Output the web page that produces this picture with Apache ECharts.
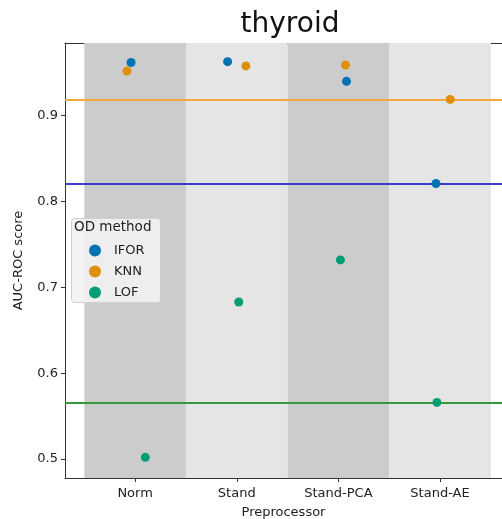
<!DOCTYPE html>
<html>
<head>
<meta charset="utf-8">
<script src="https://cdn.jsdelivr.net/npm/echarts@6/dist/echarts.min.js"></script>
<style>
  html, body { margin: 0; padding: 0; background: #fff; }
  #chart { width: 502px; height: 519px; }
</style>
</head>
<body>
<div id="chart"></div>
<script>
// categories on the x axis
const preprocessors = ['Norm', 'Stand', 'Stand-PCA', 'Stand-AE']
const methods = ['IFOR', 'KNN', 'LOF']
const methodColors = ['#0173b2', '#de8f05', '#029e73']

// AUC-ROC values per method, one per preprocessor
const iforScores = [0.962, 0.963, 0.940, 0.821]
const knnScores = [0.952, 0.958, 0.959, 0.919]
const lofScores = [0.502, 0.683, 0.732, 0.566]

// strip plot jitter (category units)
const iforJitter = [-0.04, -0.09, 0.08, -0.04]
const knnJitter = [-0.08, 0.09, 0.07, 0.10]
const lofJitter = [0.10, 0.02, 0.02, -0.03]

// baseline lines (Stand-AE scores)
const baselineValues = [0.919, 0.821, 0.566]
const baselineColors = ['#f5a83a', '#3b3bcc', '#35993a']

const yTicks = [0.5, 0.6, 0.7, 0.8, 0.9]

const scores = [iforScores, knnScores, lofScores]
const jitters = [iforJitter, knnJitter, lofJitter]

const chart = echarts.init(document.getElementById('chart'))

const bandColors = ['#cccccc', '#e5e5e5', '#cccccc', '#e5e5e5']
const bandSeries = {
    type: 'scatter',
    data: [],
    silent: true,
    markArea: {
        silent: true,
        data: preprocessors.map((_, i) => [
            { xAxis: i - 0.5, itemStyle: { color: bandColors[i] } },
            { xAxis: i + 0.5 }
        ])
    },
    markLine: {
        silent: true,
        symbol: 'none',
        precision: 4,
        label: { show: false },
        data: baselineValues.map((v, i) => ({
            yAxis: v,
            lineStyle: { color: baselineColors[i], width: 2, type: 'solid' }
        }))
    }
}

const pointSeries = methods.map((m, k) => ({
    name: m,
    type: 'scatter',
    symbolSize: 9,
    itemStyle: { color: methodColors[k], opacity: 1 },
    z: 5,
    data: scores[k].map((v, i) => [i + jitters[k][i], v])
}))

const labelFont = { fontFamily: 'DejaVu Sans', fontSize: 13, color: '#222' }

const option = {
    animation: false,
    title: {
        text: 'thyroid',
        left: 285,
        textAlign: 'center',
        top: 6,
        textStyle: { fontFamily: 'DejaVu Sans', fontSize: 28, fontWeight: 'normal', color: '#111' }
    },
    grid: { left: 65, top: 43, right: 0, bottom: 41, outerBoundsMode: 'none', containLabel: false },
    legend: {
        data: methods,
        orient: 'vertical',
        left: 71,
        top: 218,
        z: 200,
        padding: [26, 10, 6, 18],
        itemGap: 8,
        itemWidth: 12,
        itemHeight: 12,
        icon: 'circle',
        textStyle: { fontFamily: 'DejaVu Sans', fontSize: 13, color: '#222', padding: [0, 0, 0, 8] }
    },
    graphic: [{
        type: 'rect',
        left: 71,
        top: 218,
        z: 150,
        shape: { width: 89, height: 84, r: 3 },
        style: { fill: 'rgba(242,242,242,0.9)', stroke: '#d0d0d0', lineWidth: 1 }
    }, {
        type: 'text',
        left: 74,
        top: 220,
        z: 210,
        style: { text: 'OD method', font: '13.5px DejaVu Sans', fill: '#222' }
    }],
    xAxis: [{
        type: 'value',
        min: -0.69,
        max: 3.61,
        name: 'Preprocessor',
        nameLocation: 'middle',
        nameGap: 28,
        nameTextStyle: labelFont,
        splitLine: { show: false },
        axisLine: { show: true, onZero: false, lineStyle: { color: '#333', width: 1 } },
        axisTick: { show: true, length: 4, customValues: [0, 1, 2, 3], lineStyle: { color: '#333' } },
        axisLabel: Object.assign({
            customValues: [0, 1, 2, 3],
            formatter: v => preprocessors[Math.round(v)],
            margin: 9
        }, labelFont)
    }, {
        type: 'value',
        position: 'top',
        min: -0.69,
        max: 3.61,
        splitLine: { show: false },
        axisLine: { show: true, onZero: false, lineStyle: { color: '#333', width: 1 } },
        axisTick: { show: false },
        axisLabel: { show: false }
    }],
    yAxis: {
        type: 'value',
        min: 0.4779,
        max: 0.9847,
        name: 'AUC-ROC score',
        nameLocation: 'middle',
        nameGap: 40,
        nameRotate: 90,
        nameTextStyle: labelFont,
        splitLine: { show: false },
        axisLine: { show: true, onZero: false, lineStyle: { color: '#333', width: 1 } },
        axisTick: { show: true, length: 4, customValues: yTicks, lineStyle: { color: '#333' } },
        axisLabel: Object.assign({
            customValues: yTicks,
            formatter: v => v.toFixed(1),
            margin: 7
        }, labelFont)
    },
    series: [bandSeries, ...pointSeries]
}

chart.setOption(option)
</script>
</body>
</html>
